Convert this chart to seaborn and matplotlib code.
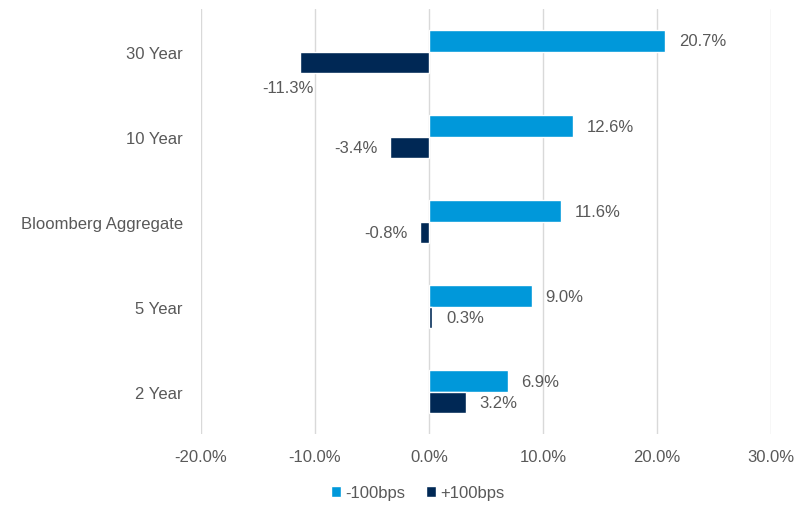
import seaborn as sns
import matplotlib.pyplot as plt
import pandas as pd

categories = ['30 Year', '10 Year', 'Bloomberg Aggregate', '5 Year', '2 Year']
down_100 = [20.7, 12.6, 11.6, 9.0, 6.9]
up_100 = [-11.3, -3.4, -0.8, 0.3, 3.2]
series = ['-100bps', '+100bps']
colors = ['#0098DA', '#002855']

df = pd.DataFrame({
    'category': categories * 2,
    'change': down_100 + up_100,
    'scenario': [series[0]] * len(categories) + [series[1]] * len(categories),
})

sns.set_style('white')
plt.rcParams['font.family'] = ['Liberation Sans', 'DejaVu Sans']
txt = '#595959'
fs = 12

fig = plt.figure(figsize=(7.99, 5.06), dpi=100)
ax = fig.add_axes([0.2516, 0.140, 0.7134, 0.840])

sns.barplot(data=df, y='category', x='change', hue='scenario', orient='h',
            palette=colors, saturation=1, width=0.5, ax=ax,
            order=categories, hue_order=series)

ax.set_xlim(-20, 30)
ax.set_ylim(4.5, -0.5)
ax.set_xticks(range(-20, 31, 10))
ax.set_xticklabels([f'{v:.1f}%' for v in range(-20, 31, 10)], color=txt, fontsize=fs)
ax.tick_params(axis='y', labelsize=fs, labelcolor=txt, length=0, pad=13)
ax.tick_params(axis='x', length=0, pad=11)
ax.set_xlabel('')
ax.set_ylabel('')
ax.xaxis.grid(True, color='#D9D9D9', linewidth=1)
ax.set_axisbelow(True)
for s in ax.spines.values():
    s.set_visible(False)

# value labels
for cont in ax.containers:
    for bar in cont:
        w = bar.get_width()
        yc = bar.get_y() + bar.get_height() / 2
        x_end = bar.get_x() + w
        lab = f'{w:.1f}%'
        if w >= 0:
            ax.annotate(lab, (x_end, yc), xytext=(10, 0), textcoords='offset points',
                        ha='left', va='center', color=txt, fontsize=fs)
        elif w > -10:
            ax.annotate(lab, (x_end, yc), xytext=(-9, 0), textcoords='offset points',
                        ha='right', va='center', color=txt, fontsize=fs)
        else:
            ax.annotate(lab, (x_end, bar.get_y() + bar.get_height()), xytext=(-9, -5),
                        textcoords='offset points', ha='center', va='top',
                        color=txt, fontsize=fs)

leg = ax.legend(loc='upper center', bbox_to_anchor=(0.38, -0.085), ncol=2, frameon=False,
                fontsize=fs, handlelength=0.6, handleheight=0.6, handletextpad=0.3,
                columnspacing=1.2)
for t in leg.get_texts():
    t.set_color(txt)

fig.savefig('out.png', dpi=100)
